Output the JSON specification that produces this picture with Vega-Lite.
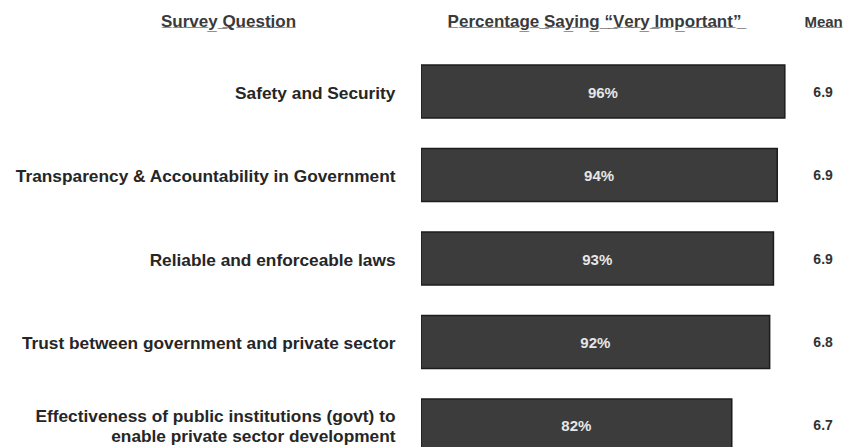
{
  "$schema": "https://vega.github.io/schema/vega-lite/v6.json",
  "autosize": {"type": "none"},
  "padding": {"left": 421, "top": 52, "right": 0, "bottom": 0},
  "width": 429,
  "height": 395,
  "background": "#ffffff",
  "config": {"view": {"stroke": null}, "font": "Liberation Sans"},
  "data": {
    "values": [
      {"question": "Safety and Security", "pct": 0.96, "mean": 6.9},
      {"question": "Transparency & Accountability in Government", "pct": 0.94, "mean": 6.9},
      {"question": "Reliable and enforceable laws ", "pct": 0.93, "mean": 6.9},
      {"question": "Trust between government and private sector", "pct": 0.92, "mean": 6.8},
      {"question": "Effectiveness of public institutions (govt) to\nenable private sector development", "pct": 0.82, "mean": 6.7}
    ]
  },
  "encoding": {
    "y": {
      "field": "question",
      "type": "nominal",
      "sort": null,
      "scale": {"range": [0, 413], "paddingInner": 0.365, "paddingOuter": 0.1557},
      "axis": {
        "domain": false,
        "ticks": false,
        "tickSize": 0,
        "grid": false,
        "labelPadding": 26,
        "labelOffset": {"condition": {"test": "indexof(datum.label, '\\n') >= 0", "value": -8}, "value": 2},
        "labelLimit": 500,
        "labelFont": "Liberation Sans",
        "labelFontSize": 17.3,
        "labelFontWeight": "bold",
        "labelColor": "#262626",
        "labelLineHeight": 20,
        "labelExpr": "split(datum.label, '\\n')",
        "title": "S\u0332u\u0332r\u0332v\u0332e\u0332y\u0332 \u0332Q\u0332u\u0332e\u0332s\u0332t\u0332i\u0332o\u0332n\u0332",
        "titleAngle": 0,
        "titleX": -193,
        "titleY": -31,
        "titleAlign": "center",
        "titleBaseline": "middle",
        "titleFont": "Liberation Sans",
        "titleFontSize": 17,
        "titleFontWeight": "bold",
        "titleColor": "#3a3a3a"
      }
    }
  },
  "layer": [
    {
      "mark": {"type": "bar", "color": "#3c3c3c", "stroke": "#1c1c1c", "strokeWidth": 1.5, "clip": true},
      "encoding": {
        "x": {
          "field": "pct",
          "type": "quantitative",
          "scale": {"domain": [0, 1.132], "nice": false},
          "axis": {
            "orient": "top",
            "values": [1.061],
            "labelExpr": "'M\u0332e\u0332a\u0332n\u0332'",
            "domain": false,
            "ticks": false,
            "tickSize": 0,
            "grid": false,
            "labelPadding": 31,
            "labelBaseline": "middle",
            "labelFont": "Liberation Sans",
            "labelFontSize": 15,
            "labelFontWeight": "bold",
            "labelColor": "#3a3a3a",
            "title": "P\u0332e\u0332r\u0332c\u0332e\u0332n\u0332t\u0332a\u0332g\u0332e\u0332 \u0332S\u0332a\u0332y\u0332i\u0332n\u0332g\u0332 \u0332\u201c\u0332V\u0332e\u0332r\u0332y\u0332 \u0332I\u0332m\u0332p\u0332o\u0332r\u0332t\u0332a\u0332n\u0332t\u0332\u201d\u0332",
            "titleX": 173,
            "titleY": -31,
            "titleAlign": "center",
            "titleBaseline": "middle",
            "titleFont": "Liberation Sans",
            "titleFontSize": 17,
            "titleFontWeight": "bold",
            "titleColor": "#3a3a3a"
          }
        }
      }
    },
    {
      "mark": {"type": "text", "color": "#e6e6e6", "fontSize": 15, "fontWeight": "bold", "align": "center", "baseline": "middle", "dy": 1, "clip": true},
      "encoding": {
        "x": {"field": "pct", "type": "quantitative", "stack": "zero", "bandPosition": 0.5},
        "text": {"field": "pct", "type": "quantitative", "format": ".0%"}
      }
    },
    {
      "mark": {"type": "text", "color": "#333333", "fontSize": 14, "fontWeight": "bold", "align": "center", "baseline": "middle", "dy": 1},
      "encoding": {
        "x": {"datum": 1.061, "type": "quantitative"},
        "text": {"field": "mean", "type": "quantitative", "format": ".1f"}
      }
    }
  ]
}
